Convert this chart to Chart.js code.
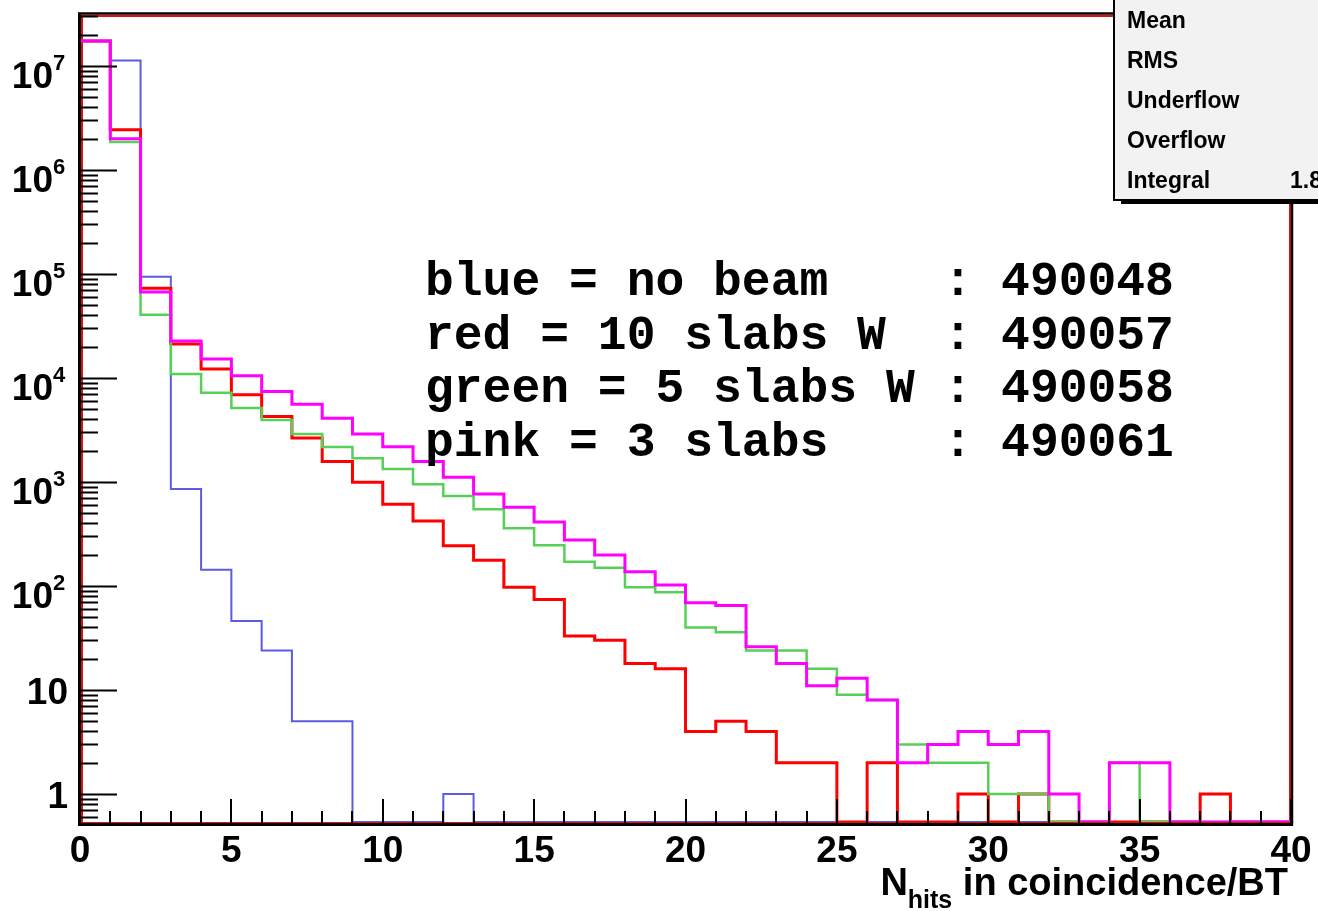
<!DOCTYPE html>
<html>
<head>
<meta charset="utf-8">
<script src="https://cdn.jsdelivr.net/npm/chart.js@4.4.1/dist/chart.umd.min.js"></script>
<style>
  html, body { margin: 0; padding: 0; background: #fff; }
  #wrap { width: 1318px; height: 911px; }
</style>
</head>
<body>
<div id="wrap"><canvas id="myChart" width="1318" height="911"></canvas></div>
<script>
// bin low edges (N hits), one entry per bin
const binLow = [0, 1, 2, 3, 4, 5, 6, 7, 8, 9, 10, 11, 12, 13, 14, 15, 16, 17, 18, 19,
  20, 21, 22, 23, 24, 25, 26, 27, 28, 29, 30, 31, 32, 33, 34, 35, 36, 37, 38, 39];
const binHigh = 40;

// counts per bin
const blueNoBeam = [1.74e7, 1.13e7, 9.4e4, 857, 143, 46, 24, 5, 5, 0, 0, 0, 1, 0, 0, 0, 0, 0, 0, 0,
  0, 0, 0, 0, 0, 0, 0, 0, 0, 0, 0, 0, 0, 0, 0, 0, 0, 0, 0, 0];
const red10Slabs = [1.74e7, 2.43e6, 7.3e4, 2.12e4, 1.22e4, 6900, 4270, 2650, 1570, 993, 611, 422, 244, 177, 97, 74, 33, 30, 18, 16,
  4, 5, 4, 2, 2, 0, 2, 0, 0, 1, 0, 1, 0, 0, 0, 0, 0, 1, 0, 0];
const green5Slabs = [1.74e7, 1.86e6, 4.06e4, 1.09e4, 7200, 5150, 3950, 2900, 2170, 1690, 1333, 951, 733, 547, 359, 246, 171, 150, 97, 87,
  40, 36, 24, 24, 16, 9, 8, 3, 2, 2, 1, 1, 0, 0, 2, 0, 0, 0, 0, 0];
const pink3Slabs = [1.74e7, 2.0e6, 6.7e4, 2.27e4, 1.52e4, 1.05e4, 7400, 5600, 4100, 2900, 2180, 1570, 1110, 767, 571, 412, 277, 199, 137, 102,
  69, 65, 26, 18, 11, 13, 8, 2, 3, 4, 3, 4, 1, 0, 2, 2, 0, 0, 0, 0];

// axis labels
const xMajorTicks = [0, 5, 10, 15, 20, 25, 30, 35, 40];
const xTickLabels = ["0", "5", "10", "15", "20", "25", "30", "35", "40"];
const yTickValues = [1, 10, 1e2, 1e3, 1e4, 1e5, 1e6, 1e7];
const yTickLabels = ["1", "10", "10^2", "10^3", "10^4", "10^5", "10^6", "10^7"];

const noteLines = [
  "blue = no beam    : 490048",
  "red = 10 slabs W  : 490057",
  "green = 5 slabs W : 490058",
  "pink = 3 slabs    : 490061"
];
const statNames = ["Mean", "RMS", "Underflow", "Overflow", "Integral"];
const statValues = ["", "", "", "", "1.8"];

// log axis range; empty bins sit on the frame bottom like ROOT draws them
const yMin = 0.538;
const yMax = 3.09e7;

function toSteps(values) {
  const pts = values.map((v, i) => ({ x: binLow[i], y: v > 0 ? v : yMin }));
  pts.push({ x: binHigh, y: pts[pts.length - 1].y });
  return pts;
}

function makeSet(label, values, color, width, order) {
  return {
    label: label,
    data: toSteps(values),
    borderColor: color,
    borderWidth: width,
    stepped: "before",
    fill: false,
    pointRadius: 0,
    order: order
  };
}

const SANS = '"Liberation Sans", Arial, Helvetica, sans-serif';

const rootFrame = {
  id: "rootFrame",
  // red frame goes over the blue histogram but under the others
  afterDatasetDraw(chart, args) {
    if (args.index !== 3) return;
    const ctx = chart.ctx;
    const a = chart.chartArea;
    ctx.save();
    ctx.strokeStyle = "#e01010";
    ctx.lineWidth = 2;
    ctx.strokeRect(a.left + 2, a.top + 1, a.right - a.left - 3, a.bottom - a.top);
    ctx.restore();
  },
  afterDraw(chart) {
    const ctx = chart.ctx;
    const a = chart.chartArea;
    const xs = chart.scales.x;
    const ys = chart.scales.y;
    ctx.save();

    // black axis frame
    ctx.strokeStyle = "#000";
    ctx.lineWidth = 3;
    ctx.beginPath();
    ctx.moveTo(a.left - 0.5, a.top - 2);
    ctx.lineTo(a.left - 0.5, a.bottom + 4);
    ctx.moveTo(a.left - 2, a.bottom + 2.5);
    ctx.lineTo(a.right + 2, a.bottom + 2.5);
    ctx.stroke();
    ctx.lineWidth = 2.5;
    ctx.beginPath();
    ctx.moveTo(a.left - 2, a.top - 1.5);
    ctx.lineTo(a.right + 2.5, a.top - 1.5);
    ctx.moveTo(a.right + 1, a.top - 2);
    ctx.lineTo(a.right + 1, a.bottom + 3);
    ctx.stroke();

    // y ticks (inward), decades long, 2..9 short
    ctx.lineWidth = 2;
    ctx.beginPath();
    for (let k = -1; k <= 7; k++) {
      for (let m = 1; m <= 9; m++) {
        const v = m * Math.pow(10, k);
        if (v < ys.min || v > ys.max) continue;
        const y = Math.round(ys.getPixelForValue(v)) + 0.5;
        ctx.moveTo(a.left, y);
        ctx.lineTo(a.left + (m === 1 ? 37 : 18), y);
      }
    }
    // x ticks (inward)
    for (let t = 0; t <= 40; t++) {
      const x = Math.round(xs.getPixelForValue(t));
      const major = xMajorTicks.indexOf(t) >= 0;
      ctx.moveTo(x, a.bottom + 1);
      ctx.lineTo(x, a.bottom + 1 - (major ? 24 : 12));
    }
    ctx.stroke();

    // y labels
    ctx.fillStyle = "#000";
    yTickValues.forEach((v, i) => {
      const y = ys.getPixelForValue(v);
      const parts = yTickLabels[i].split("^");
      if (parts.length === 1) {
        ctx.font = "bold 37px " + SANS;
        ctx.textAlign = "right";
        ctx.fillText(parts[0], 68, y + 14);
      } else {
        ctx.font = "bold 37px " + SANS;
        ctx.textAlign = "right";
        ctx.fillText(parts[0], 53, y + 22);
        ctx.font = "bold 22px " + SANS;
        ctx.textAlign = "left";
        ctx.fillText(parts[1], 53, y + 4);
      }
    });

    // x labels
    ctx.font = "bold 37px " + SANS;
    ctx.textAlign = "center";
    xMajorTicks.forEach((t, i) => {
      ctx.fillText(xTickLabels[i], xs.getPixelForValue(t), 862);
    });

    // x title: N_hits in coincidence/BT
    ctx.textAlign = "left";
    ctx.font = "bold 38px " + SANS;
    const wN = ctx.measureText("N").width;
    const wRest = ctx.measureText(" in coincidence/BT").width;
    ctx.font = "bold 25px " + SANS;
    const wSub = ctx.measureText("hits").width;
    const tx = 1288 - (wN + wSub + wRest);
    ctx.font = "bold 38px " + SANS;
    ctx.fillText("N", tx, 895);
    ctx.font = "bold 25px " + SANS;
    ctx.fillText("hits", tx + wN, 908);
    ctx.font = "bold 38px " + SANS;
    ctx.fillText(" in coincidence/BT", tx + wN + wSub, 895);

    // run notes
    ctx.font = 'bold 48px "Liberation Mono", "Courier New", monospace';
    noteLines.forEach((line, i) => {
      ctx.fillText(line, 425, 295 + i * 53.5);
    });

    // stats box (cut by the canvas edge)
    ctx.fillStyle = "#000";
    ctx.fillRect(1121, -5, 300, 209);
    ctx.fillStyle = "#f2f2f2";
    ctx.fillRect(1114, -5, 300, 205);
    ctx.strokeStyle = "#000";
    ctx.lineWidth = 2;
    ctx.strokeRect(1114, -5, 300, 205);
    ctx.fillStyle = "#000";
    ctx.font = "bold 23px " + SANS;
    statNames.forEach((s, i) => {
      ctx.fillText(s, 1127, 28 + i * 40);
      if (statValues[i]) ctx.fillText(statValues[i], 1290, 28 + i * 40);
    });

    ctx.restore();
  }
};

const ctx = document.getElementById("myChart").getContext("2d");
const myChart = new Chart(ctx, {
  type: "line",
  data: {
    datasets: [
      makeSet("pink = 3 slabs", pink3Slabs, "#ff00ff", 3, 0),
      makeSet("green = 5 slabs W", green5Slabs, "#58d058", 2.5, 1),
      makeSet("red = 10 slabs W", red10Slabs, "#ff0000", 3, 2),
      makeSet("blue = no beam", blueNoBeam, "#5c5ce0", 2, 3)
    ]
  },
  options: {
    responsive: false,
    animation: false,
    devicePixelRatio: 1,
    layout: { padding: { left: 80, top: 15, right: 27, bottom: 89 } },
    plugins: { legend: { display: false }, tooltip: { enabled: false } },
    scales: {
      x: { type: "linear", min: 0, max: 40, display: false },
      y: { type: "logarithmic", min: yMin, max: yMax, display: false }
    }
  },
  plugins: [rootFrame]
});
</script>
</body>
</html>
